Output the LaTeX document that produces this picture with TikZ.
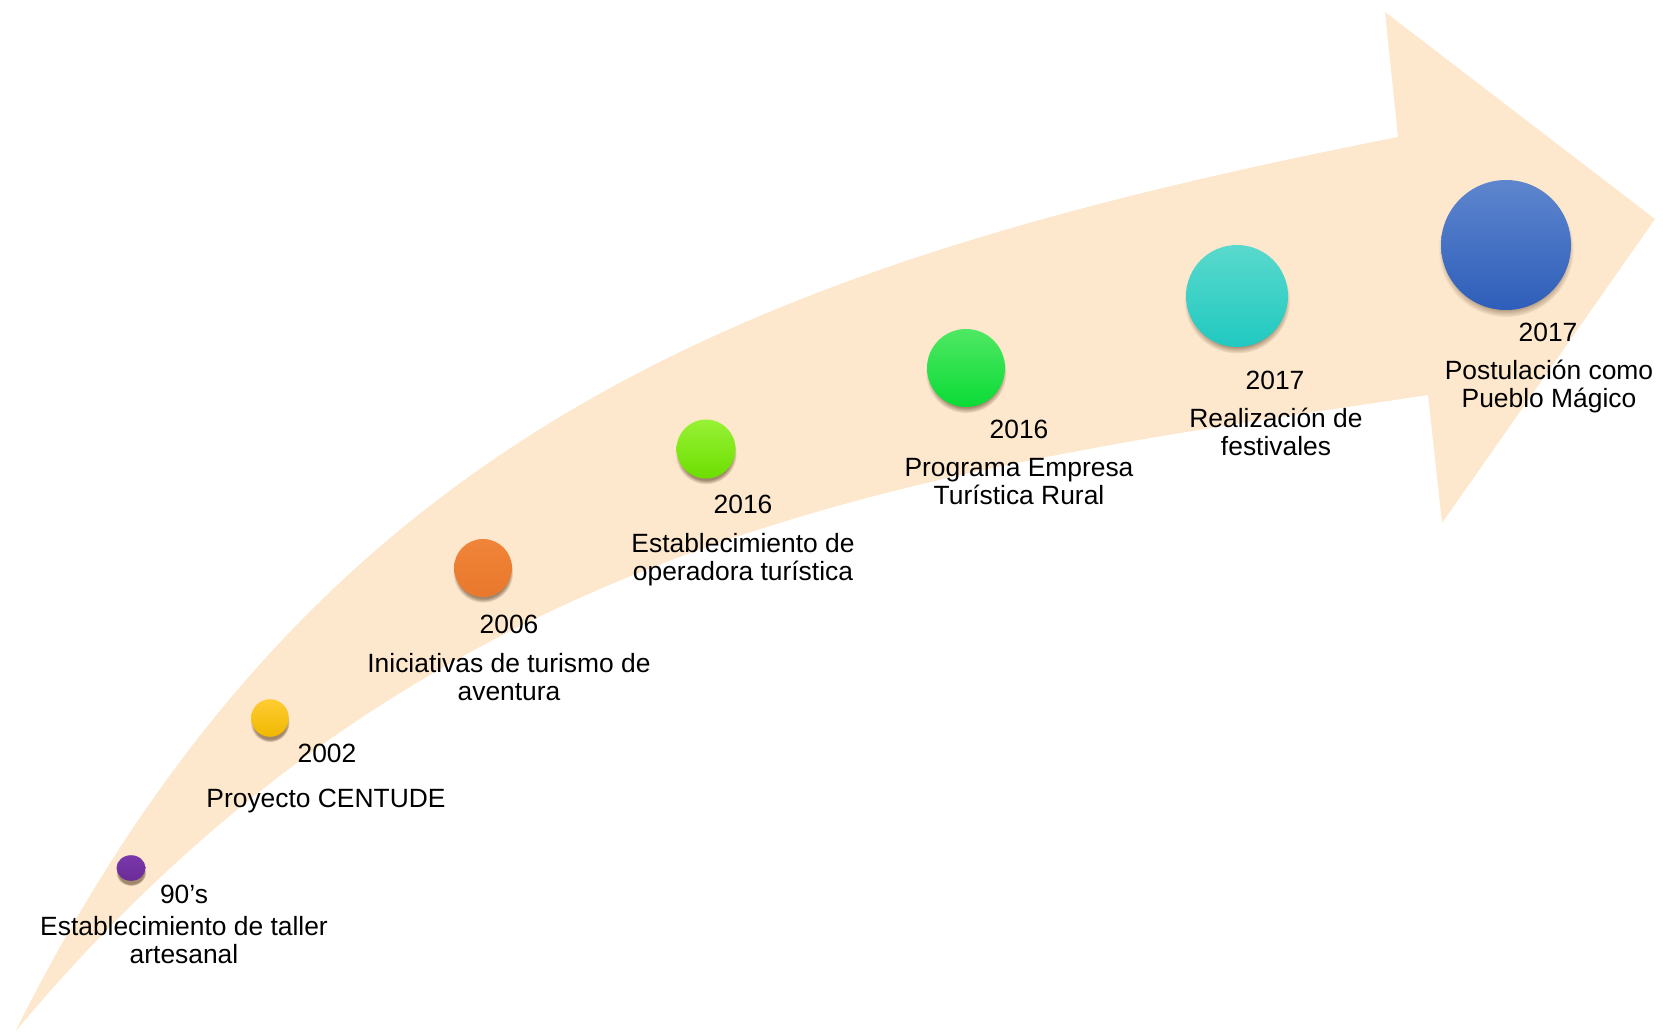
\documentclass[tikz,border=0pt]{standalone}
\usepackage{fontspec}
\setmainfont{Liberation Sans}
\usetikzlibrary{shadows,fadings,shapes.geometric}
\definecolor{band}{HTML}{FDE8CD}
\definecolor{pA}{HTML}{7A38AA}\definecolor{pB}{HTML}{6A2C98}
\definecolor{yA}{HTML}{FFCC33}\definecolor{yB}{HTML}{F0B800}
\definecolor{oA}{HTML}{F08438}\definecolor{oB}{HTML}{E8782C}
\definecolor{lA}{HTML}{98F236}\definecolor{lB}{HTML}{6CDE00}
\definecolor{gA}{HTML}{4FE863}\definecolor{gB}{HTML}{0ADB36}
\definecolor{tA}{HTML}{5AD9CD}\definecolor{tB}{HTML}{20C9C0}
\definecolor{bA}{HTML}{5E86CE}\definecolor{bB}{HTML}{2E5EBA}
\tikzset{
  dot/.style={circle, inner sep=0pt, draw=none,
    circular drop shadow={shadow xshift=0pt, shadow yshift=-2.2pt, shadow scale=1.04, opacity=.55, fill=black!55!brown}},
  yr/.style={anchor=base, inner sep=0pt, font=\fontsize{13.2}{14}\selectfont},
  desc/.style={yr, align=center}
}
\begin{document}
\begin{tikzpicture}[x=0.5pt,y=-0.5pt]
\useasboundingbox (0,0) rectangle (1663,1033);
\fill[band] (15,1032) .. controls (315,432) and (749,265) .. (1398,137)
  -- (1385,12) -- (1655,219) -- (1442,523) -- (1428,395)
  .. controls (928,470) and (435,528) .. (15,1032) -- cycle;

\node[dot, ellipse, minimum width=14.5pt, minimum height=12.8pt, top color=pA, bottom color=pB] (d1) at (131,868) {};
\node[dot, minimum size=18.8pt, top color=yA, bottom color=yB] (d2) at (270,718) {};
\node[dot, minimum size=29pt, top color=oA, bottom color=oB] (d3) at (483,568) {};
\node[dot, minimum size=29.5pt, top color=lA, bottom color=lB] (d4) at (706,449) {};
\node[dot, minimum size=39pt, top color=gA, bottom color=gB] (d5) at (966,368) {};
\node[dot, minimum size=51pt, top color=tA, bottom color=tB] (d6) at (1237,296) {};
\node[dot, minimum size=65pt, top color=bA, bottom color=bB] (d7) at (1506,245) {};

\node[yr] (y1) at (184,903) {90’s};
\node[desc] (t1) at (184,963) {Establecimiento de taller\\artesanal};
\node[yr] (y2) at (327,762) {2002};
\node[desc] (t2) at (326,807) {Proyecto CENTUDE};
\node[yr] (y3) at (509,633) {2006};
\node[desc] (t3) at (509,700) {Iniciativas de turismo de\\aventura};
\node[yr] (y4) at (743,513) {2016};
\node[desc] (t4) at (743,580) {Establecimiento de\\operadora turística};
\node[yr] (y5) at (1019,438) {2016};
\node[desc] (t5) at (1019,504) {Programa Empresa\\Turística Rural};
\node[yr] (y6) at (1275,389) {2017};
\node[desc] (t6) at (1276,455) {Realización de\\festivales};
\node[yr] (y7) at (1548,341) {2017};
\node[desc] (t7) at (1549,407) {Postulación como\\Pueblo Mágico};
\end{tikzpicture}
\end{document}
